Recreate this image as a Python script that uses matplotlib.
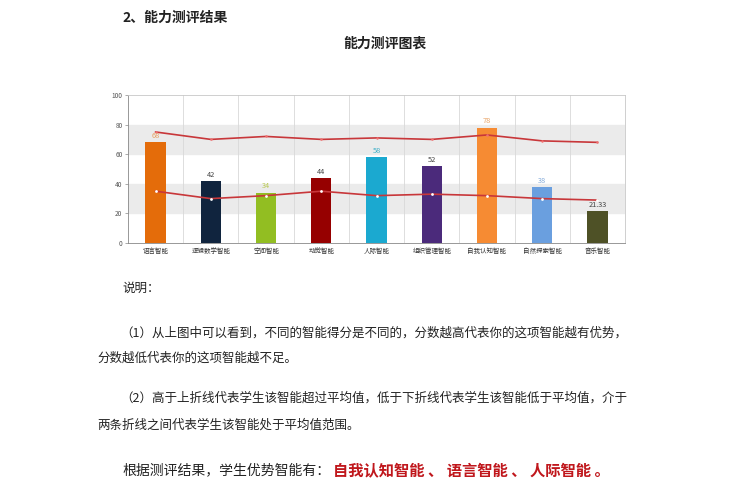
import matplotlib.pyplot as plt
import numpy as np

plt.rcParams['font.family'] = ['Noto Sans CJK SC', 'DejaVu Sans']

categories = ['语言智能', '逻辑数学智能', '空间智能', '动觉智能', '人际智能',
              '组织管理智能', '自我认知智能', '自然探索智能', '音乐智能']
scores = [68, 42, 34, 44, 58, 52, 78, 38, 21.33]
upper_avg = [75, 70, 72, 70, 71, 70, 73, 69, 68]
lower_avg = [35, 30, 32, 35, 32, 33, 32, 30, 29]
bar_colors = ['#E46C0A', '#10243E', '#92BE22', '#960000', '#1BA9D0',
              '#4B2A7B', '#F68B33', '#6A9FDF', '#4E5126']
label_colors = ['#E8A060', '#444444', '#B8C850', '#444444', '#40B0C8',
                '#444444', '#E8A060', '#80A8D8', '#444444']
score_labels = ['68', '42', '34', '44', '58', '52', '78', '38', '21.33']

fig = plt.figure(figsize=(7.43, 5), dpi=100)
W, H = 743, 500

def px(x, y):
    return x / W, 1 - y / H

# document text
fig.text(*px(122, 18), '2、能力测评结果', fontsize=10, fontweight='bold', va='center', ha='left', color='#222222')
fig.text(*px(385, 44), '能力测评图表', fontsize=10, fontweight='bold', va='center', ha='center', color='#222222')

# chart
ax = fig.add_axes([128 / W, 1 - 243 / H, (625 - 128) / W, (243 - 95) / H])
x = np.arange(len(categories))
ax.axhspan(20, 40, color='#EBEBEB', zorder=0)
ax.axhspan(60, 80, color='#EBEBEB', zorder=0)
for b in np.arange(0.5, len(categories) - 0.5, 1):
    ax.axvline(b, color='#D8D8D8', lw=0.6, zorder=0.5)
ax.bar(x, scores, width=0.37, color=bar_colors, zorder=2)
for xi, s, lab, c in zip(x, scores, score_labels, label_colors):
    ax.text(xi, s + 1.5, lab, ha='center', va='bottom', fontsize=5.3, color=c, zorder=4)
ax.plot(x, upper_avg, color='#C8373A', lw=1.2, marker='o', ms=1.8,
        mfc='#F07070', mec='none', zorder=3)
ax.plot(x, lower_avg, color='#C8373A', lw=1.2, marker='o', ms=2,
        mfc='white', mec='none', zorder=3)
ax.set_xlim(-0.5, len(categories) - 0.5)
ax.set_ylim(0, 100)
ax.set_yticks([0, 20, 40, 60, 80, 100])
ax.set_xticks(x)
ax.set_xticklabels(categories, fontsize=4.7, color='#333333')
ax.tick_params(axis='y', labelsize=4.7, labelcolor='#555555', length=2, width=0.5, color='#888888', pad=2)
ax.tick_params(axis='x', length=0, pad=3)
for sp in ax.spines.values():
    sp.set_color('#C8C8C8')
    sp.set_linewidth(0.6)
ax.spines['left'].set_color('#888888')
ax.spines['bottom'].set_color('#888888')

# explanation text
body = dict(fontsize=9, va='center', ha='left', color='#222222')
fig.text(*px(122, 288), '说明：', **body)
fig.text(*px(120, 333), '（1）从上图中可以看到，不同的智能得分是不同的，分数越高代表你的这项智能越有优势，', **body)
fig.text(*px(97, 358), '分数越低代表你的这项智能越不足。', **body)
fig.text(*px(120, 398), '（2）高于上折线代表学生该智能超过平均值，低于下折线代表学生该智能低于平均值，介于', **body)
fig.text(*px(97, 425), '两条折线之间代表学生该智能处于平均值范围。', **body)
fig.text(*px(122, 470), '根据测评结果，学生优势智能有：', fontsize=10, va='center', ha='left', color='#222222')
fig.text(*px(333, 470), '自我认知智能 、 语言智能 、 人际智能 。', fontsize=11, fontweight='bold',
         va='center', ha='left', color='#C0171C')

fig.savefig('out.png', dpi=100, facecolor='white')
